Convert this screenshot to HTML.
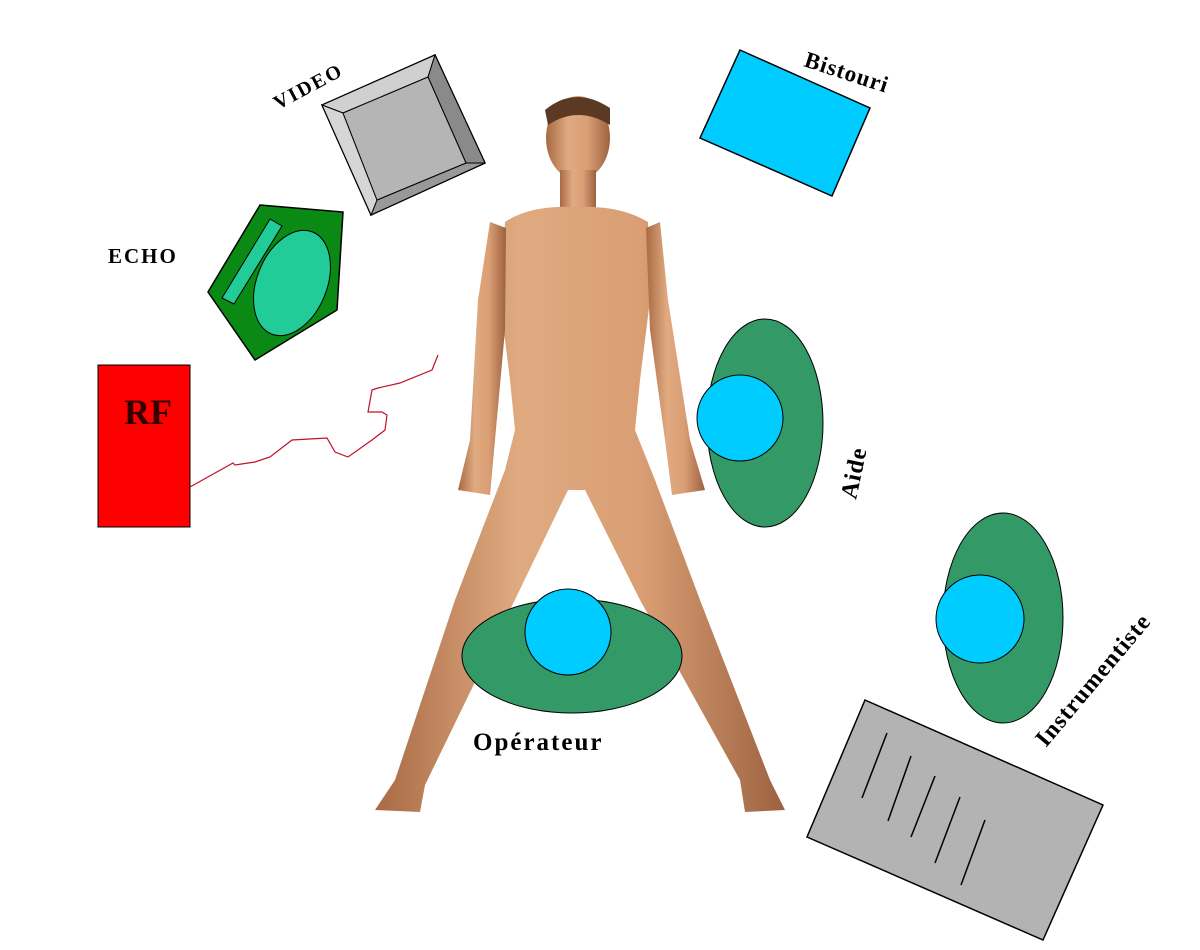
<!DOCTYPE html>
<html><head><meta charset="utf-8"><style>html,body{margin:0;padding:0;background:#fff}svg{display:block}</style></head>
<body>
<svg width="1200" height="950" viewBox="0 0 1200 950" xmlns="http://www.w3.org/2000/svg" font-family="Liberation Serif, serif" font-weight="bold">
<defs>
<linearGradient id="sk" x1="0" x2="1" y1="0" y2="0">
<stop offset="0" stop-color="#a86a44"/><stop offset="0.35" stop-color="#e0aa80"/><stop offset="0.65" stop-color="#d99e74"/><stop offset="1" stop-color="#9c6240"/>
</linearGradient>
</defs>
<!-- VIDEO -->
<polygon points="322,105 435,55 485,163 371,215" fill="#b8b8b8" stroke="#000" stroke-width="1.5"/>
<polygon points="322,105 435,55 428,77 343,113" fill="#d0d0d0" stroke="#000"/>
<polygon points="435,55 485,163 466,163 428,77" fill="#8a8a8a" stroke="#000"/>
<polygon points="485,163 371,215 377,200 466,163" fill="#999" stroke="#000"/>
<polygon points="322,105 343,113 377,200 371,215" fill="#d6d6d6" stroke="#000"/>
<polygon points="343,113 428,77 466,163 377,200" fill="#b5b5b5" stroke="#000"/>
<text x="0" y="0" font-size="20" letter-spacing="2" transform="translate(278,110) rotate(-28)">VIDEO</text>
<!-- ECHO -->
<polygon points="260,205 343,212 337,310 255,360 208,292" fill="#0a8a14" stroke="#000" stroke-width="1.5"/>
<polygon points="222,298 234,304 282,226 270,219" fill="#22cc99" stroke="#000"/>
<ellipse cx="292" cy="283" rx="35" ry="55" transform="rotate(22 292 283)" fill="#22cc99" stroke="#000"/>
<text x="108" y="263" font-size="21" letter-spacing="2">ECHO</text>
<!-- RF -->
<rect x="98" y="365" width="92" height="162" fill="#ff0000" stroke="#000"/>
<text x="124" y="424" font-size="36" fill="#300">RF</text>
<polyline points="190,487 233,463 235,465 255,462 270,457 292,440 327,438 335,452 348,457 372,440 385,430 387,415 382,412 368,412 372,390 378,388 400,383 432,370 438,355" fill="none" stroke="#c0102a" stroke-width="1.2"/>
<!-- Bistouri -->
<polygon points="740,50 870,108 832,196 700,138" fill="#00ccff" stroke="#000" stroke-width="1.5"/>
<text x="0" y="0" font-size="23" letter-spacing="1" transform="translate(803,66) rotate(18)">Bistouri</text>
<!-- Human -->
<g fill="url(#sk)">
<ellipse cx="578" cy="138" rx="32" ry="42"/>
<rect x="560" y="170" width="36" height="40"/>
<path d="M505,222 Q530,205 575,207 Q620,205 648,222 L650,300 L640,380 L635,430 L655,480 L700,600 L770,780 L785,810 L745,812 L740,780 L640,600 L585,490 L568,490 L510,610 L425,785 L420,812 L375,810 L395,780 L455,600 L505,470 L515,430 L510,380 L500,300 Z"/>
<path d="M490,222 L506,228 L505,330 L495,440 L490,495 L458,490 L470,440 L478,300 Z"/>
<path d="M660,222 L646,228 L650,330 L665,440 L672,495 L705,490 L690,440 L668,300 Z"/>
</g>
<path d="M545,110 Q575,85 610,108 L610,125 Q578,105 548,125 Z" fill="#5a3a22"/>
<!-- Aide -->
<ellipse cx="765" cy="423" rx="58" ry="104" fill="#339966" stroke="#000"/>
<circle cx="740" cy="418" r="43" fill="#00ccff" stroke="#000"/>
<text x="0" y="0" font-size="24" letter-spacing="1" transform="translate(856,500) rotate(-78)">Aide</text>
<!-- Instrumentiste -->
<ellipse cx="1003" cy="618" rx="60" ry="105" fill="#339966" stroke="#000"/>
<circle cx="980" cy="619" r="44" fill="#00ccff" stroke="#000"/>
<text x="0" y="0" font-size="24" letter-spacing="1" transform="translate(1046,748) rotate(-50)">Instrumentiste</text>
<!-- Operateur -->
<ellipse cx="572" cy="656" rx="110" ry="57" fill="#339966" stroke="#000"/>
<circle cx="568" cy="632" r="43" fill="#00ccff" stroke="#000"/>
<text x="473" y="750" font-size="25" letter-spacing="2">Opérateur</text>
<!-- Tray -->
<polygon points="865,700 1103,805 1043,940 807,837" fill="#b3b3b3" stroke="#000" stroke-width="1.5"/>
<g stroke="#000" stroke-width="1.5">
<line x1="862" y1="798" x2="887" y2="733"/>
<line x1="888" y1="821" x2="911" y2="756"/>
<line x1="911" y1="837" x2="935" y2="776"/>
<line x1="935" y1="863" x2="960" y2="797"/>
<line x1="961" y1="885" x2="985" y2="820"/>
</g>
</svg>
</body></html>
